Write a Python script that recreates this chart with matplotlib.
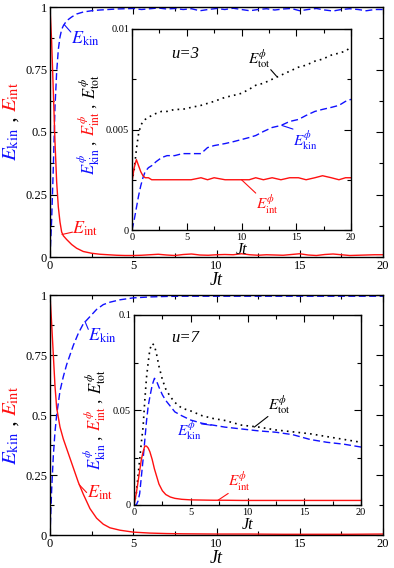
"""Kinetic / interaction energy after a quench, u=3 (top) and u=7 (bottom),
with the condensate (phi) parts shown in insets."""
import matplotlib
matplotlib.use("Agg")
import matplotlib.pyplot as plt
from matplotlib.ticker import MultipleLocator

plt.rcParams["font.family"] = ["Liberation Serif", "DejaVu Serif"]
plt.rcParams["mathtext.fontset"] = "stix"
plt.rcParams["xtick.direction"] = "in"
plt.rcParams["ytick.direction"] = "in"

BLUE, RED, BLACK = "#1010ff", "#ff1010", "black"

# ---- u = 3, full energies ---------------------------------------------
t_main3 = [0, 0.1, 0.2, 0.3, 0.4, 0.5, 0.6, 0.7, 0.8, 1.0, 1.3, 1.6, 2.0, 2.5, 3,
           3.5, 4, 4.5, 5, 5.5, 6, 6.5, 7, 7.5, 8, 8.5, 9, 9.5, 10, 10.5, 11,
           11.5, 12, 12.5, 13, 13.5, 14, 14.5, 15, 15.5, 16, 16.5, 17, 17.5,
           18, 18.5, 19, 19.5, 20]
ekin3 = [0, 0.15, 0.36, 0.6, 0.74, 0.83, 0.88, 0.91, 0.925, 0.945, 0.96, 0.972,
         0.98, 0.985, 0.988, 0.99, 0.992, 0.993, 0.994, 0.99, 0.993, 0.996,
         0.992, 0.994, 0.99, 0.993, 0.985, 0.99, 0.994, 0.99, 0.995, 0.99,
         0.985, 0.99, 0.993, 0.988, 0.992, 0.994, 0.985, 0.99, 0.994, 0.988,
         0.984, 0.99, 0.993, 0.99, 0.985, 0.99, 0.99]
eint3 = [1, 0.86, 0.66, 0.46, 0.3, 0.2, 0.14, 0.1, 0.085, 0.07, 0.05, 0.035,
         0.022, 0.015, 0.011, 0.009, 0.007, 0.006, 0.006, 0.007, 0.009, 0.011,
         0.008, 0.006, 0.01, 0.012, 0.008, 0.007, 0.009, 0.01, 0.009, 0.013,
         0.009, 0.007, 0.009, 0.008, 0.007, 0.01, 0.013, 0.008, 0.006, 0.01,
         0.012, 0.009, 0.006, 0.007, 0.008, 0.009, 0.009]

# ---- u = 3, condensate parts (inset) ------------------------------------
t_ins3 = [0, 0.2, 0.4, 0.6, 0.8, 1.0, 1.2, 1.5, 1.8, 2.2, 2.7, 3.2, 3.9, 4.6,
          5.4, 6.3, 6.9, 7.5, 8.5, 9.3, 10, 10.7, 11.3, 12, 12.8, 13.6, 14.4,
          15.2, 15.9, 16.7, 17.4, 18.2, 18.9, 19.5, 20]
ekin_phi3 = [0, 0.0005, 0.0011, 0.0017, 0.0022, 0.0026, 0.0029, 0.0031, 0.0032,
             0.0034, 0.0036, 0.0037, 0.0037, 0.0038, 0.0038, 0.0038, 0.0041,
             0.0042, 0.0043, 0.0044, 0.0045, 0.0046, 0.0047, 0.0049, 0.0051,
             0.0052, 0.0054, 0.0055, 0.0057, 0.0059, 0.006, 0.0061, 0.0062,
             0.0064, 0.0065]
eint_phi3 = [0.0024, 0.0031, 0.0035, 0.0032, 0.0029, 0.0027, 0.0026, 0.0026,
             0.0025, 0.0025, 0.0025, 0.0025, 0.0025, 0.0025, 0.0025, 0.0026,
             0.0025, 0.0026, 0.0025, 0.0025, 0.0025, 0.0025, 0.0026, 0.0025,
             0.0026, 0.0025, 0.0026, 0.0026, 0.0025, 0.0026, 0.0027, 0.0026,
             0.0025, 0.0026, 0.0026]
etot_phi3 = [0.0024, 0.003, 0.004, 0.0048, 0.0052, 0.0054, 0.0055, 0.0056,
             0.0057, 0.0058, 0.0059, 0.0059, 0.006, 0.006, 0.0061, 0.0062,
             0.0063, 0.0064, 0.0066, 0.0067, 0.0068, 0.007, 0.0072, 0.0073,
             0.0075, 0.0077, 0.0079, 0.0081, 0.0082, 0.0084, 0.0085, 0.0087,
             0.0088, 0.0089, 0.0091]

# ---- u = 7, full energies ---------------------------------------------
t_main7 = [0, 0.1, 0.2, 0.3, 0.4, 0.6, 0.8, 1.0, 1.2, 1.4, 1.7, 2.0, 2.4, 2.8,
           3.2, 3.6, 4.2, 5, 6, 7, 8, 10, 12, 14, 16, 18, 20]
ekin7 = [0, 0.19, 0.33, 0.43, 0.5, 0.6, 0.66, 0.71, 0.75, 0.79, 0.84, 0.88,
         0.91, 0.94, 0.96, 0.97, 0.98, 0.988, 0.992, 0.994, 0.995, 0.995,
         0.995, 0.995, 0.995, 0.995, 0.995]
eint7 = [1, 0.88, 0.75, 0.62, 0.53, 0.45, 0.4, 0.36, 0.32, 0.28, 0.22, 0.17,
         0.11, 0.07, 0.045, 0.03, 0.02, 0.012, 0.008, 0.006, 0.005, 0.004,
         0.004, 0.003, 0.003, 0.003, 0.004]

# ---- u = 7, condensate parts (inset) ------------------------------------
t_ins7 = [0, 0.2, 0.35, 0.5, 0.65, 0.8, 0.95, 1.1, 1.25, 1.4, 1.6, 1.8, 2.0,
          2.2, 2.5, 2.8, 3.2, 3.6, 4.2, 5, 6, 7, 8, 9.5, 11, 12.5, 14, 15.5,
          17, 18.5, 20]
etot_phi7 = [0, 0.006, 0.015, 0.024, 0.033, 0.041, 0.055, 0.067, 0.075, 0.082,
             0.085, 0.084, 0.079, 0.073, 0.066, 0.061, 0.057, 0.054, 0.051,
             0.0495, 0.047, 0.0455, 0.0445, 0.042, 0.041, 0.0395, 0.0385,
             0.0375, 0.036, 0.0345, 0.033]
ekin_phi7 = [0, 0, 0.002, 0.006, 0.015, 0.024, 0.034, 0.044, 0.052, 0.057,
             0.063, 0.0667, 0.065, 0.062, 0.058, 0.055, 0.052, 0.049, 0.047,
             0.0447, 0.043, 0.042, 0.041, 0.04, 0.039, 0.0383, 0.037, 0.0345,
             0.033, 0.032, 0.0305]
eint_phi7 = [0, 0.006, 0.012, 0.018, 0.024, 0.028, 0.031, 0.031, 0.03, 0.028,
             0.024, 0.019, 0.015, 0.011, 0.0075, 0.0055, 0.0042, 0.0035, 0.003,
             0.0027, 0.0026, 0.0025, 0.0025, 0.0024, 0.0024, 0.0024, 0.0024,
             0.0024, 0.0024, 0.0024, 0.0024]

main_yticks = [0, 0.25, 0.5, 0.75, 1]
main_ylabels = ["0", "0.25", "0.5", "0.75", "1"]
xticks = [0, 5, 10, 15, 20]
ins3_yticks, ins3_ylabels = [0, 0.005, 0.01], ["0", "0.005", "0.01"]
ins7_yticks, ins7_ylabels = [0, 0.05, 0.1], ["0", "0.05", "0.1"]

W, H = 394, 568
fig = plt.figure(figsize=(W / 100, H / 100), dpi=100)


def frac(left, top, right, bottom):
    """pixel box (from top-left) -> figure-fraction rect"""
    return [left / W, 1 - bottom / H, (right - left) / W, (bottom - top) / H]


def style(ax, yt, ylab, ymin, size, xlabsize):
    ax.set_xlim(0, 20)
    ax.set_xticks(xticks)
    ax.xaxis.set_minor_locator(MultipleLocator(2.5))
    ax.set_yticks(yt, ylab)
    ax.set_ylim(yt[0], yt[-1])
    ax.yaxis.set_minor_locator(MultipleLocator(ymin))
    ax.tick_params(which="both", top=True, right=True, labelsize=size, pad=2)
    ax.tick_params(which="major", length=5, width=0.8)
    ax.tick_params(which="minor", length=3, width=0.8)
    ax.set_xlabel("Jt", fontstyle="italic", fontsize=xlabsize, labelpad=0)
    for s in ax.spines.values():
        s.set_linewidth(1.0)


def stacked_ylabel(x, yc, parts, size):
    """rotated label made of differently coloured pieces, centred on yc"""
    texts = [fig.text(x, yc, s, color=c, fontsize=size, rotation=90,
                      rotation_mode="anchor", ha="left", va="baseline")
             for s, c in parts]
    r = fig.canvas.get_renderer()
    lens = [t.get_window_extent(r).height for t in texts]
    y = yc - sum(lens) / 2 / fig.bbox.height
    for t, L in zip(texts, lens):
        t.set_position((x, y))
        y += L / fig.bbox.height


def note(ax, s, c, xy, xytext, rel, size):
    ax.annotate(s, xy=xy, xytext=xytext, color=c, fontsize=size,
                ha="left", va="baseline",
                arrowprops=dict(arrowstyle="-", color=c, lw=0.8, patchA=None,
                                shrinkA=0, shrinkB=0, relpos=rel))


lw = 1.0
dash = (0, (5, 2.5))
dots = (0, (1, 2.5))

# ================= top panel: u = 3 ====================================
ax1 = fig.add_axes(frac(50, 7, 383, 257))
ax1.plot(t_main3, ekin3, color=BLUE, lw=lw, ls=dash)
ax1.plot(t_main3, eint3, color=RED, lw=lw)
style(ax1, main_yticks, main_ylabels, 0.125, 9, 13)
note(ax1, r"$E_{\rm kin}$", BLUE, (0.85, 0.93), (1.25, 0.855), (0.0, 0.85), 13)
note(ax1, r"$E_{\rm int}$", RED, (0.72, 0.09), (1.35, 0.095), (0.0, 0.3), 13)

in1 = fig.add_axes(frac(132, 29, 351, 230))
in1.plot(t_ins3, etot_phi3, color=BLACK, lw=1.2, ls=dots)
in1.plot(t_ins3, ekin_phi3, color=BLUE, lw=lw, ls=dash)
in1.plot(t_ins3, eint_phi3, color=RED, lw=lw)
style(in1, ins3_yticks, ins3_ylabels, 0.0025, 7.5, 11.5)
in1.text(3.6, 0.00856, "u=3", fontstyle="italic", fontsize=12)
note(in1, r"$E^{\phi}_{\rm tot}$", BLACK, (13.2, 0.00765), (10.6, 0.0083), (1.0, 0.0), 11)
note(in1, r"$E^{\phi}_{\rm kin}$", BLUE, (13.7, 0.0052), (14.7, 0.00415), (0.0, 1.0), 11)
note(in1, r"$E^{\phi}_{\rm int}$", RED, (10.0, 0.0025), (11.3, 0.001), (0.0, 1.0), 11)

# ================= bottom panel: u = 7 =================================
ax2 = fig.add_axes(frac(50, 295, 383, 535))
ax2.plot(t_main7, ekin7, color=BLUE, lw=lw, ls=dash)
ax2.plot(t_main7, eint7, color=RED, lw=lw)
style(ax2, main_yticks, main_ylabels, 0.125, 9, 13)
note(ax2, r"$E_{\rm kin}$", BLUE, (2.1, 0.89), (2.3, 0.81), (0.0, 0.85), 13)
note(ax2, r"$E_{\rm int}$", RED, (1.75, 0.21), (2.2, 0.157), (0.0, 0.5), 13)

in2 = fig.add_axes(frac(134, 315, 361, 505))
in2.plot(t_ins7, etot_phi7, color=BLACK, lw=1.2, ls=dots)
in2.plot(t_ins7, ekin_phi7, color=BLUE, lw=lw, ls=dash)
in2.plot(t_ins7, eint_phi7, color=RED, lw=lw)
style(in2, ins7_yticks, ins7_ylabels, 0.025, 7.5, 11.5)
in2.text(3.3, 0.086, "u=7", fontstyle="italic", fontsize=12)
note(in2, r"$E^{\phi}_{\rm tot}$", BLACK, (10.6, 0.041), (11.8, 0.050), (0.0, 0.0), 11)
note(in2, r"$E^{\phi}_{\rm kin}$", BLUE, (6.8, 0.042), (3.75, 0.036), (1.0, 0.8), 11)
note(in2, r"$E^{\phi}_{\rm int}$", RED, (7.4, 0.0025), (8.3, 0.0095), (0.0, 0.0), 11)

# ---- coloured y labels ----------------------------------------------------
main_parts = [(r"$E_{\rm kin}$", BLUE), (" , ", BLACK), (r"$E_{\rm int}$", RED)]
ins_parts = [(r"$E^{\phi}_{\rm kin}$", BLUE), (" , ", BLACK),
             (r"$E^{\phi}_{\rm int}$", RED), (" , ", BLACK),
             (r"$E^{\phi}_{\rm tot}$", BLACK)]
stacked_ylabel(16 / W, 1 - 121 / H, main_parts, 15)
stacked_ylabel(95 / W, 1 - 125 / H, ins_parts, 12)
stacked_ylabel(16 / W, 1 - 425 / H, main_parts, 15)
stacked_ylabel(101 / W, 1 - 420 / H, ins_parts, 12)

fig.savefig("out.png", dpi=100)
